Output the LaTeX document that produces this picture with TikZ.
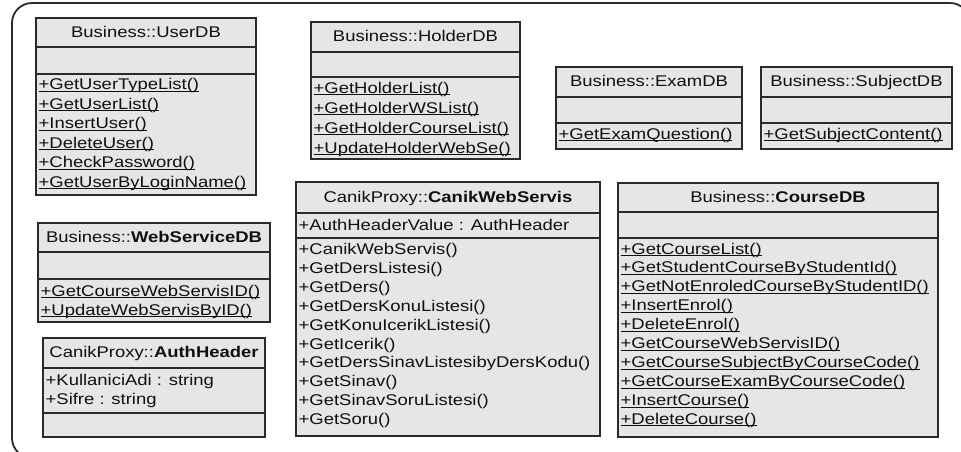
\documentclass[tikz,border=0pt]{standalone}
\usepackage{fontspec}
\setmainfont{Liberation Sans}[FakeStretch=1.19]
\definecolor{boxfill}{HTML}{E6E6E6}
\definecolor{linec}{HTML}{2A2A2A}
\definecolor{txtc}{HTML}{101010}
\newcommand\ulx[1]{\setbox0\hbox{#1}\rlap{\rule[-2.2pt]{\wd0}{0.9pt}}\box0}
\tikzset{
  clsbox/.style={draw=linec, fill=boxfill, line width=1.3pt},
  clsline/.style={draw=linec, line width=1.1pt},
  hdr/.style={anchor=base, inner sep=0pt, text=txtc},
  row/.style={anchor=base west, inner sep=0pt, text=txtc},
  frame/.style={draw=linec, line width=1.8pt, rounded corners=20pt}
}
\begin{document}
\begin{tikzpicture}[x=1pt, y=-1pt, font=\fontsize{15.5}{18}\selectfont]
\useasboundingbox (0,0) rectangle (961,451);
\clip (0,0) rectangle (961,451);
\draw[frame] (12,3) rectangle (970,458);

% UserDB
\draw[clsbox] (36,18) rectangle (256,195);
\draw[clsline] (36,47) -- (256,47);
\draw[clsline] (36,74) -- (256,74);
\node[hdr] (userdb) at (146,37.5) {Business::UserDB};
\foreach \t [count=\i from 0] in {+GetUserTypeList(),+GetUserList(),+InsertUser(),+DeleteUser(),+CheckPassword(),+GetUserByLoginName()}
  \node[row] (userdb-m\i) at (38.5,{89.5+\i*19.5}) {\ulx{\t}};

% HolderDB
\draw[clsbox] (311,22) rectangle (520,159);
\draw[clsline] (311,52) -- (520,52);
\draw[clsline] (311,77) -- (520,77);
\node[hdr] (holderdb) at (415.5,41) {Business::HolderDB};
\foreach \t [count=\i from 0] in {+GetHolderList(),+GetHolderWSList(),+GetHolderCourseList(),+UpdateHolderWebSe()}
  \node[row] (holderdb-m\i) at (313.5,{93+\i*20}) {\ulx{\t}};

% ExamDB
\draw[clsbox] (556,67) rectangle (742,149);
\draw[clsline] (556,97) -- (742,97);
\draw[clsline] (556,123) -- (742,123);
\node[hdr] (examdb) at (649,86.5) {Business::ExamDB};
\node[row] (examdb-m0) at (558.5,139) {\ulx{+GetExamQuestion()}};

% SubjectDB
\draw[clsbox] (761,67) rectangle (952,149);
\draw[clsline] (761,97) -- (952,97);
\draw[clsline] (761,123) -- (952,123);
\node[hdr] (subjectdb) at (856.5,86.5) {Business::SubjectDB};
\node[row] (subjectdb-m0) at (763.5,139) {\ulx{+GetSubjectContent()}};

% WebServiceDB
\draw[clsbox] (38,223) rectangle (270,322);
\draw[clsline] (38,252) -- (270,252);
\draw[clsline] (38,279) -- (270,279);
\node[hdr] (webservicedb) at (154,242) {Business::\textbf{WebServiceDB}};
\foreach \t [count=\i from 0] in {+GetCourseWebServisID(),+UpdateWebServisByID()}
  \node[row] (webservicedb-m\i) at (40.5,{296+\i*19}) {\ulx{\t}};

% AuthHeader
\draw[clsbox] (43,338) rectangle (265,437);
\draw[clsline] (43,368) -- (265,368);
\draw[clsline] (43,413) -- (265,413);
\node[hdr] (authheader) at (154,357.5) {CanikProxy::\textbf{AuthHeader}};
\foreach \t [count=\i from 0] in {+KullaniciAdi : string,+Sifre : string}
  \node[row] (authheader-a\i) at (45.5,{385+\i*19}) {\t};

% CanikWebServis
\draw[clsbox] (296,182) rectangle (600,436);
\draw[clsline] (296,213) -- (600,213);
\draw[clsline] (296,238) -- (600,238);
\node[hdr] (canikws) at (448,202) {CanikProxy::\textbf{CanikWebServis}};
\node[row] (canikws-a0) at (298.5,230) {+AuthHeaderValue : AuthHeader};
\foreach \t [count=\i from 0] in {+CanikWebServis(),+GetDersListesi(),+GetDers(),+GetDersKonuListesi(),+GetKonuIcerikListesi(),+GetIcerik(),+GetDersSinavListesibyDersKodu(),+GetSinav(),+GetSinavSoruListesi(),+GetSoru()}
  \node[row] (canikws-m\i) at (298.5,{254.5+\i*18.9}) {\t};

% CourseDB
\draw[clsbox] (618,183) rectangle (938,437);
\draw[clsline] (618,212) -- (938,212);
\draw[clsline] (618,238) -- (938,238);
\node[hdr] (coursedb) at (778,202) {Business::\textbf{CourseDB}};
\foreach \t [count=\i from 0] in {+GetCourseList(),+GetStudentCourseByStudentId(),+GetNotEnroledCourseByStudentID(),+InsertEnrol(),+DeleteEnrol(),+GetCourseWebServisID(),+GetCourseSubjectByCourseCode(),+GetCourseExamByCourseCode(),+InsertCourse(),+DeleteCourse()}
  \node[row] (coursedb-m\i) at (620.5,{254+\i*18.9}) {\ulx{\t}};
\end{tikzpicture}
\end{document}
